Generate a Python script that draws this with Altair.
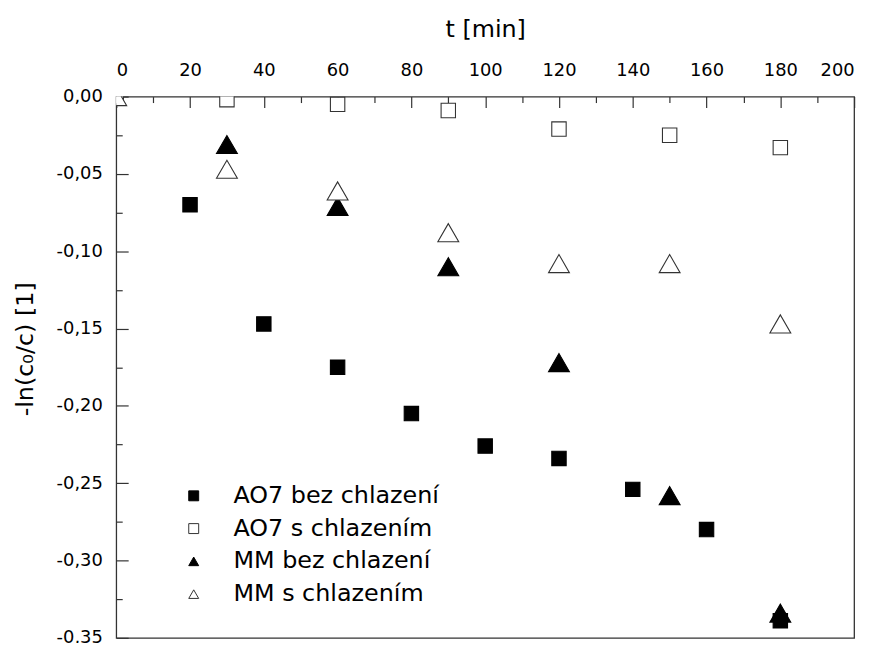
import altair as alt
import pandas as pd

series_names = ["AO7 bez chlazení", "AO7 s chlazením", "MM bez chlazení", "MM s chlazením"]

t_ao7_bez = [20, 40, 60, 80, 100, 120, 140, 160, 180]
y_ao7_bez = [-0.070, -0.147, -0.175, -0.205, -0.226, -0.234, -0.254, -0.280, -0.339]

t_ao7_s = [0, 30, 60, 90, 120, 150, 180]
y_ao7_s = [0.000, -0.002, -0.005, -0.009, -0.021, -0.025, -0.033]

t_mm_bez = [30, 60, 90, 120, 150, 180]
y_mm_bez = [-0.031, -0.071, -0.110, -0.172, -0.258, -0.334]

t_mm_s = [0, 30, 60, 90, 120, 150, 180]
y_mm_s = [0.000, -0.047, -0.061, -0.088, -0.108, -0.108, -0.147]

x_major = [0, 20, 40, 60, 80, 100, 120, 140, 160, 180, 200]
x_minor = [10, 30, 50, 70, 90, 110, 130, 150, 170, 190]
y_major = [0.0, -0.05, -0.10, -0.15, -0.20, -0.25, -0.30, -0.35]
y_minor = [-0.025, -0.075, -0.125, -0.175, -0.225, -0.275, -0.325]

shapes = ["square", "square", "triangle-up", "triangle-up"]
fills = ["black", "white", "black", "white"]
strokes = ["black", "#333333", "black", "#333333"]

rows = []
for name, ts, ys in [
    (series_names[0], t_ao7_bez, y_ao7_bez),
    (series_names[1], t_ao7_s, y_ao7_s),
    (series_names[2], t_mm_bez, y_mm_bez),
    (series_names[3], t_mm_s, y_mm_s),
]:
    for t, y in zip(ts, ys):
        rows.append({"t": t, "y": y, "series": name})
df = pd.DataFrame(rows)

FONT = "DejaVu Sans"
xscale = alt.Scale(domain=[0, 200], nice=False, zero=False)
yscale = alt.Scale(domain=[-0.35, 0], nice=False, zero=False)

legend = alt.Legend(
    orient="none", legendX=66, legendY=390, title=None,
    labelFontSize=24, labelFont=FONT, labelColor="black", labelLimit=500,
    symbolSize=100, labelOffset=28, rowPadding=9, symbolStrokeWidth=1,
)

x_axis = alt.Axis(
    orient="top", values=x_major, format="d", offset=-11, tickSize=11,
    domain=False, labelPadding=17, labelFontSize=18, labelFont=FONT,
    labelColor="black", tickColor="#333333", tickWidth=1.2, grid=False,
    title="t [min]", titleFontSize=24, titleFont=FONT, titleFontWeight="normal",
    titleColor="black", titlePadding=21,
)
y_axis = alt.Axis(
    orient="left", values=y_major, offset=-12, tickSize=12, domain=False,
    labelExpr="(datum.value < 0 ? '-' : '') + replace(format(abs(datum.value), '.2f'), '.', ',')",
    labelPadding=14, labelFontSize=18, labelFont=FONT, labelColor="black",
    tickColor="#333333", tickWidth=1.2, grid=False,
    title="-ln(c₀/c) [1]", titleFontSize=24, titleFont=FONT, titleFontWeight="normal",
    titleColor="black", titlePadding=19, titleY=254,
)
x_minor_axis = alt.Axis(
    orient="top", values=x_minor, offset=-6, tickSize=6, domain=False,
    labels=False, tickColor="#333333", tickWidth=1.2, grid=False, title=None,
)
y_minor_axis = alt.Axis(
    orient="left", values=y_minor, offset=-6, tickSize=6, domain=False,
    labels=False, tickColor="#333333", tickWidth=1.2, grid=False, title=None,
)

points = alt.Chart(df).mark_point(filled=True, strokeWidth=1.1, opacity=1, clip=True).encode(
    x=alt.X("t:Q", scale=xscale, axis=x_axis),
    y=alt.Y("y:Q", scale=yscale, axis=y_axis),
    shape=alt.Shape("series:N", scale=alt.Scale(domain=series_names, range=shapes), legend=legend),
    fill=alt.Fill("series:N", scale=alt.Scale(domain=series_names, range=fills), legend=legend),
    stroke=alt.Stroke("series:N", scale=alt.Scale(domain=series_names, range=strokes), legend=legend),
    size=alt.condition("indexof(datum.series, 'MM') === 0", alt.value(441), alt.value(210)),
)

minor = alt.Chart(df).mark_point(opacity=0).encode(
    x=alt.X("t:Q", scale=xscale, axis=x_minor_axis),
    y=alt.Y("y:Q", scale=yscale, axis=y_minor_axis),
)

chart = alt.layer(minor, points).resolve_axis(x="independent", y="independent").properties(
    width=743, height=545,
    autosize=alt.AutoSizeParams(type="none"),
    padding={"left": 109, "top": 87, "right": 18, "bottom": 3},
    background="white",
).configure_view(stroke="#333333", strokeWidth=1.3)

chart.save("out.html", embed_options={"renderer": "svg", "actions": False})
